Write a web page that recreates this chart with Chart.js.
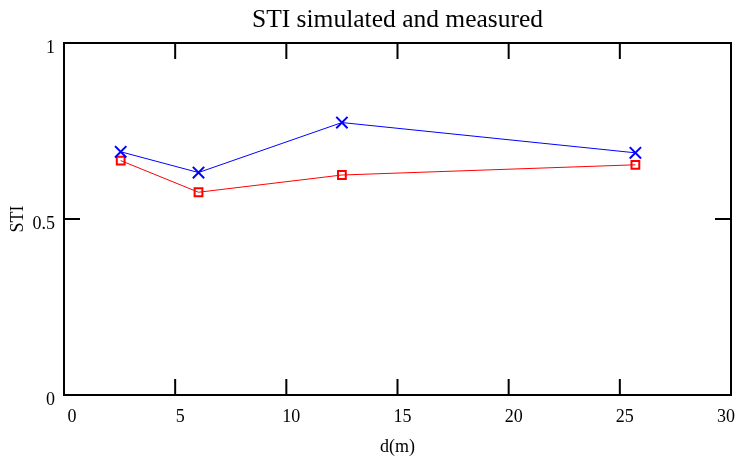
<!DOCTYPE html>
<html>
<head>
<meta charset="utf-8">
<title>STI simulated and measured</title>
<script src="https://cdn.jsdelivr.net/npm/chart.js@4.4.0/dist/chart.umd.min.js"></script>
<style>
  html, body { margin: 0; padding: 0; background: #fff; }
  #wrap { width: 736px; height: 460px; position: relative; }
</style>
</head>
<body>
<div id="wrap"><canvas id="grafica"></canvas></div>
<script>
// distancias (m)
var distancias = [2.55, 6.05, 12.5, 25.7];
// STI simulado (azul) y medido (rojo)
var stiSimulado = [0.691, 0.632, 0.774, 0.688];
var stiMedido = [0.666, 0.576, 0.625, 0.654];
var xTicks = [0, 5, 10, 15, 20, 25, 30];
var yTicks = [0, 0.5, 1];

var fuente = 'Liberation Serif, Times New Roman, serif';

function puntos(xs, ys) {
    var out = [];
    for (let i = 0; i < xs.length; i++) {
        out.push({ x: xs[i], y: ys[i] });
    }
    return out;
}

// marco, ticks hacia dentro y etiquetas del eje x
var marco = {
    id: 'marco',
    afterDraw: function(chart) {
        var ctx = chart.ctx;
        var a = chart.chartArea;
        var sx = chart.scales.x;
        var sy = chart.scales.y;
        var largo = 16;
        ctx.save();
        ctx.strokeStyle = '#000';
        ctx.lineWidth = 2;
        ctx.strokeRect(a.left, a.top, a.right - a.left, a.bottom - a.top);
        ctx.beginPath();
        xTicks.forEach(function(v) {
            var px = sx.getPixelForValue(v);
            ctx.moveTo(px, a.bottom); ctx.lineTo(px, a.bottom - largo);
            ctx.moveTo(px, a.top); ctx.lineTo(px, a.top + largo);
        });
        yTicks.forEach(function(v) {
            var py = sy.getPixelForValue(v);
            ctx.moveTo(a.left, py); ctx.lineTo(a.left + largo, py);
            ctx.moveTo(a.right, py); ctx.lineTo(a.right - largo, py);
        });
        ctx.stroke();

        ctx.fillStyle = '#000';
        ctx.font = '18px ' + fuente;
        ctx.textAlign = 'center';
        ctx.textBaseline = 'middle';
        xTicks.forEach(function(v) {
            var txt = String(v);
            var w = ctx.measureText(txt).width;
            var px = sx.getPixelForValue(v) + (v === 0 ? 8 : 5);
            if (px + w / 2 > chart.width - 1) px = chart.width - 1 - w / 2;
            ctx.fillText(txt, px, a.bottom + 22);
        });
        ctx.restore();
    }
};

var ctx = document.getElementById('grafica').getContext('2d');
var grafica = new Chart(ctx, {
    type: 'scatter',
    data: {
        datasets: [{
            label: 'simulado',
            data: puntos(distancias, stiSimulado),
            showLine: true,
            borderColor: '#0000ff',
            backgroundColor: '#0000ff',
            borderWidth: 1,
            pointStyle: 'crossRot',
            pointRadius: 8,
            pointHoverRadius: 8,
            pointBorderWidth: 2,
            pointBorderColor: '#0000ff'
        }, {
            label: 'medido',
            data: puntos(distancias, stiMedido),
            showLine: true,
            borderColor: '#ff0000',
            backgroundColor: 'rgba(0,0,0,0)',
            borderWidth: 1,
            pointStyle: 'rect',
            pointRadius: 5.5,
            pointHoverRadius: 5.5,
            pointBorderWidth: 2,
            pointBorderColor: '#ff0000'
        }]
    },
    options: {
        responsive: true,
        maintainAspectRatio: false,
        animation: false,
        layout: { autoPadding: false, padding: { left: 0, right: 5, top: 0, bottom: 0 } },
        plugins: {
            legend: { display: false },
            tooltip: { enabled: false },
            title: {
                display: true,
                text: 'STI simulated and measured',
                color: '#000',
                fullSize: false,
                font: { family: fuente, size: 25.5, weight: 'normal', lineHeight: 1.2 },
                padding: { top: 5, bottom: 7.4 }
            }
        },
        scales: {
            x: {
                type: 'linear',
                min: 0,
                max: 30,
                afterBuildTicks: function(scale) {
                    scale.ticks = xTicks.map(function(v) { return { value: v }; });
                },
                afterFit: function(scale) {
                    scale.height = 65;
                    scale.paddingLeft = 0;
                    scale.paddingRight = 0;
                },
                grid: { display: false, drawTicks: false },
                border: { display: false },
                ticks: { display: false },
                title: {
                    display: true,
                    text: 'd(m)',
                    color: '#000',
                    font: { family: fuente, size: 18, lineHeight: 1.2 },
                    padding: { top: 0, bottom: 2 }
                }
            },
            y: {
                type: 'linear',
                min: 0,
                max: 1,
                afterBuildTicks: function(scale) {
                    scale.ticks = yTicks.map(function(v) { return { value: v }; });
                },
                afterFit: function(scale) {
                    scale.width = 64;
                    scale.paddingTop = 0;
                    scale.paddingBottom = 0;
                },
                grid: { display: false, drawTicks: false },
                border: { display: false },
                ticks: {
                    color: '#000',
                    padding: 9,
                    labelOffset: 5,
                    font: { family: fuente, size: 18 },
                    callback: function(v) { return String(v); }
                },
                title: {
                    display: true,
                    text: 'STI',
                    color: '#000',
                    font: { family: fuente, size: 18, lineHeight: 1.2 },
                    padding: { top: 7, bottom: 0 }
                }
            }
        }
    },
    plugins: [marco]
});
</script>
</body>
</html>
